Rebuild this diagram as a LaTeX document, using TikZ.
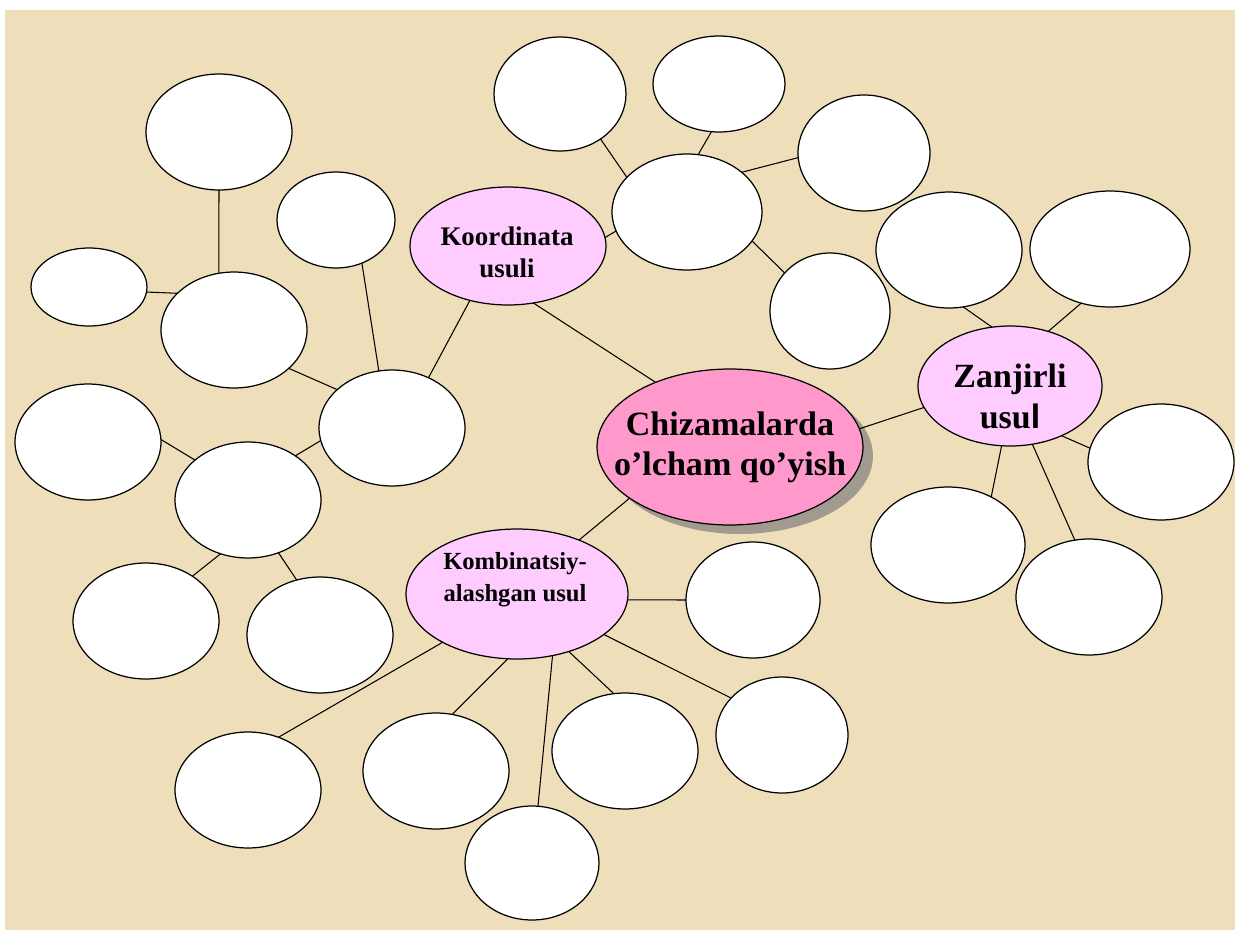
\documentclass[tikz,border=0pt]{standalone}
\usepackage{fontspec}
\setmainfont{Liberation Serif}
\newfontfamily\sansfont{Liberation Sans}
\usetikzlibrary{shapes.geometric,shadows}

\definecolor{paper}{RGB}{238,222,185}
\definecolor{hubpink}{RGB}{255,204,255}
\definecolor{mainpink}{RGB}{255,153,204}
\definecolor{shadowgray}{RGB}{160,154,144}

\begin{document}
\begin{tikzpicture}[x=0.02cm, y=-0.02cm,
  blank/.style={ellipse, draw, fill=white, line width=0.7pt, inner sep=0pt, outer sep=0pt,
                minimum width=2.92cm, minimum height=2.32cm},
  hub/.style={ellipse, draw, fill=hubpink, line width=0.7pt, inner sep=0pt, outer sep=0pt},
  link/.style={line width=0.6pt}]

% paper background
\fill[white] (0,0) rectangle (1235,930);
\fill[paper] (5,10) rectangle (1235,930);

% main topic with its shadow
\node[hub, fill=mainpink, minimum width=5.32cm, minimum height=3.12cm,
      copy shadow={shadow xshift=0.2cm, shadow yshift=-0.18cm, fill=shadowgray, draw=none}] (chiz) at (730,447) {};
\node[font=\bfseries\fontsize{19.4}{22.8}\selectfont, align=center] (chiztxt) at (730,447) {Chizamalarda\\o’lcham qo’yish};

% the three methods
\node[hub, minimum width=3.92cm, minimum height=2.36cm] (koord) at (508,246) {};
\node[font=\bfseries\fontsize{15.3}{18.2}\selectfont, align=center] (koordtxt) at (507,252) {Koordinata\\usuli};

\node[hub, minimum width=3.68cm, minimum height=2.4cm] (zanj) at (1010,386) {};
\node[font=\bfseries\fontsize{19.3}{23.3}\selectfont, align=center] (zanjtxt) at (1010,396) {Zanjirli\\usu{\sansfont l}};

\node[hub, minimum width=4.44cm, minimum height=2.6cm] (komb) at (517,594) {};
\node[font=\bfseries\fontsize{14}{18.2}\selectfont, align=center] (kombtxt) at (515,580) {Kombinatsiy-\\alashgan usul};

% empty bubbles
\node[blank] (e1) at (219,132) {};
\node[blank, minimum width=2.32cm, minimum height=1.56cm] (e2) at (89,287) {};
\node[blank] (e3) at (234,330) {};
\node[blank, minimum width=2.36cm, minimum height=1.92cm] (e4) at (336,220) {};
\node[blank] (e5) at (392,428) {};
\node[blank] (e6) at (88,442) {};
\node[blank] (e7) at (248,500) {};
\node[blank] (e8) at (146,621) {};
\node[blank] (e9) at (320,635) {};
\node[blank, minimum width=2.64cm, minimum height=2.28cm] (e10) at (560,94) {};
\node[blank, minimum width=2.64cm, minimum height=1.92cm] (e11) at (719,84) {};
\node[blank, minimum width=3.0cm] (e12) at (687,212) {};
\node[blank, minimum width=2.64cm] (e13) at (864,153) {};
\node[blank, minimum width=2.4cm] (e14) at (830,311) {};
\node[blank] (e15) at (949,250) {};
\node[blank, minimum width=3.2cm] (e16) at (1110,249) {};
\node[blank] (e17) at (1161,462) {};
\node[blank, minimum width=3.08cm] (e18) at (948,545) {};
\node[blank] (e19) at (1089,597) {};
\node[blank, minimum width=2.68cm] (e20) at (753,600) {};
\node[blank, minimum width=2.64cm] (e21) at (782,735) {};
\node[blank] (e22) at (625,751) {};
\node[blank] (e23) at (436,771) {};
\node[blank] (e24) at (248,790) {};
\node[blank, minimum width=2.68cm, minimum height=2.28cm] (e25) at (532,863) {};

% connectors, left group
\draw[link] (e1.south) -- (e3.105);
\draw[link] (e2.-5) -- (e3.147);
\draw[link] (e4.-59) -- (e5.103);
\draw[link] (koord.-125) -- (e5.54);
\draw[link] (e3.-35) -- (e5.145);
\draw[link] (e6.2) -- (e7.143);
\draw[link] (e5.190) -- (e7.43);
\draw[link] (e7.-117) -- (e8.44);
\draw[link] (e7.-60) -- (e9.113);

% connectors, upper group
\draw[link] (koord.5) -- (e12.195);
\draw[link] (e10.-48) -- (e12.150);
\draw[link] (e11.-99) -- (e12.79);
\draw[link] (e12.36) -- (e13.184);
\draw[link] (e12.-24) -- (e14.140);

% connectors to the main topic
\draw[link] (koord.-66) -- (chiz.139);
\draw[link] (chiz.8.5) -- (zanj.194);
\draw[link] (chiz.207) -- (komb.41.5);

% connectors, right group
\draw[link] (e15.-76) -- (zanj.107);
\draw[link] (e16.-118) -- (zanj.55);
\draw[link] (zanj.-44) -- (e17.169);
\draw[link] (zanj.-98) -- (e18.48);
\draw[link] (zanj.-69) -- (e19.104);

% connectors, lower group
\draw[link] (komb.-3) -- (e20.west);
\draw[link] (komb.-25) -- (e21.144);
\draw[link] (komb.-48) -- (e22.101);
\draw[link] (komb.-60) -- (e25.84);
\draw[link] (komb.-98) -- (e23.74);
\draw[link] (komb.213) -- (e24.60);

\useasboundingbox (0,0) rectangle (1235,930);
\end{tikzpicture}
\end{document}
